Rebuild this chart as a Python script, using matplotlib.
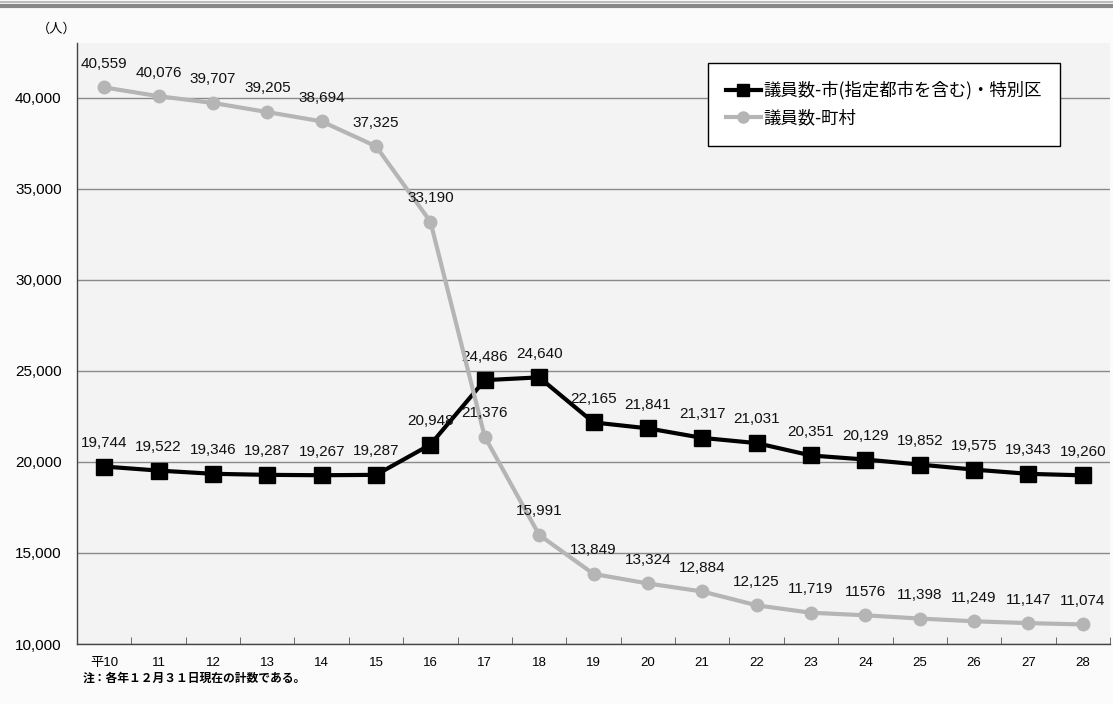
import matplotlib.pyplot as plt
from matplotlib.lines import Line2D

plt.rcParams['font.family'] = ['Liberation Sans', 'Noto Sans CJK JP', 'DejaVu Sans']

years = ["平10", "11", "12", "13", "14", "15", "16", "17", "18", "19",
         "20", "21", "22", "23", "24", "25", "26", "27", "28"]
shi = [19744, 19522, 19346, 19287, 19267, 19287, 20948, 24486, 24640, 22165,
       21841, 21317, 21031, 20351, 20129, 19852, 19575, 19343, 19260]
chouson = [40559, 40076, 39707, 39205, 38694, 37325, 33190, 21376, 15991, 13849,
           13324, 12884, 12125, 11719, 11576, 11398, 11249, 11147, 11074]
chouson_text = ["40,559", "40,076", "39,707", "39,205", "38,694", "37,325", "33,190",
                "21,376", "15,991", "13,849", "13,324", "12,884", "12,125", "11,719",
                "11576", "11,398", "11,249", "11,147", "11,074"]

fig = plt.figure(figsize=(11.13, 7.04), dpi=100, facecolor='#fbfbfb')
ax = fig.add_axes([0.0692, 0.0852, 0.9281, 0.8538])
ax.set_facecolor('#f3f3f3')

x = list(range(len(years)))

# 市（指定都市を含む）・特別区
ax.plot(x, shi, color='black', lw=3, marker='s', ms=11, zorder=3)
for xi, v in zip(x, shi):
    ax.annotate(f"{v:,}", (xi, v), xytext=(0, 17), textcoords='offset points',
                ha='center', va='center', fontsize=11, color='#111111', zorder=4)

# 町村
ax.plot(x, chouson, color='#b5b5b5', lw=3, marker='o', ms=9, zorder=5)
for xi, v, t in zip(x, chouson, chouson_text):
    ax.annotate(t, (xi, v), xytext=(0, 17), textcoords='offset points',
                ha='center', va='center', fontsize=11, color='#111111', zorder=6)

ax.set_xlim(-0.5, len(years) - 0.5)
ax.set_ylim(10000, 43000)
ax.set_yticks(range(10000, 45000, 5000))
ax.set_yticklabels([f"{v:,}" for v in range(10000, 45000, 5000)], fontsize=11)
ax.set_xticks(x)
ax.set_xticklabels(years, fontsize=9.5)
ax.set_xticks([i + 0.5 for i in range(len(years))], minor=True)
ax.tick_params(axis='x', which='major', length=0, pad=9)
ax.tick_params(axis='x', which='minor', direction='in', length=5, color='#555555')
ax.tick_params(axis='y', length=0, pad=11)

ax.grid(axis='y', color='#8a8a8a', lw=1)
ax.set_axisbelow(True)
for s in ['top', 'right']:
    ax.spines[s].set_visible(False)
for s in ['left', 'bottom']:
    ax.spines[s].set_color('#444444')
    ax.spines[s].set_linewidth(1)

handles = [
    Line2D([], [], color='black', lw=3, marker='s', ms=9),
    Line2D([], [], color='#b5b5b5', lw=3, marker='o', ms=8),
]
labels = ["議員数-市(指定都市を含む)・特別区", "議員数-町村"]
leg = ax.legend(handles, labels, loc='upper right', bbox_to_anchor=(0.9516, 0.9667),
                prop={'family': 'Noto Sans CJK JP', 'size': 12.5},
                frameon=True, fancybox=False, edgecolor='black',
                framealpha=1, facecolor='white', handlelength=2.0, handletextpad=0.15,
                borderpad=1.05, labelspacing=0.55, borderaxespad=0)
leg.get_frame().set_linewidth(1)

fig.text(0.033, 0.958, "（人）", fontsize=9.5, ha='left', va='center')
fig.text(0.074, 0.036, "注：各年１２月３１日現在の計数である。", fontsize=8.5,
         ha='left', va='center', family='Noto Sans CJK JP', weight='bold')

# 上部の区切り線
fig.add_artist(Line2D([0, 1], [0.9965, 0.9965], transform=fig.transFigure, color='#bbbbbb', lw=1.5))
fig.add_artist(Line2D([0, 1], [0.9915, 0.9915], transform=fig.transFigure, color='#888888', lw=3))

fig.savefig('out.png', dpi=100, facecolor=fig.get_facecolor())
